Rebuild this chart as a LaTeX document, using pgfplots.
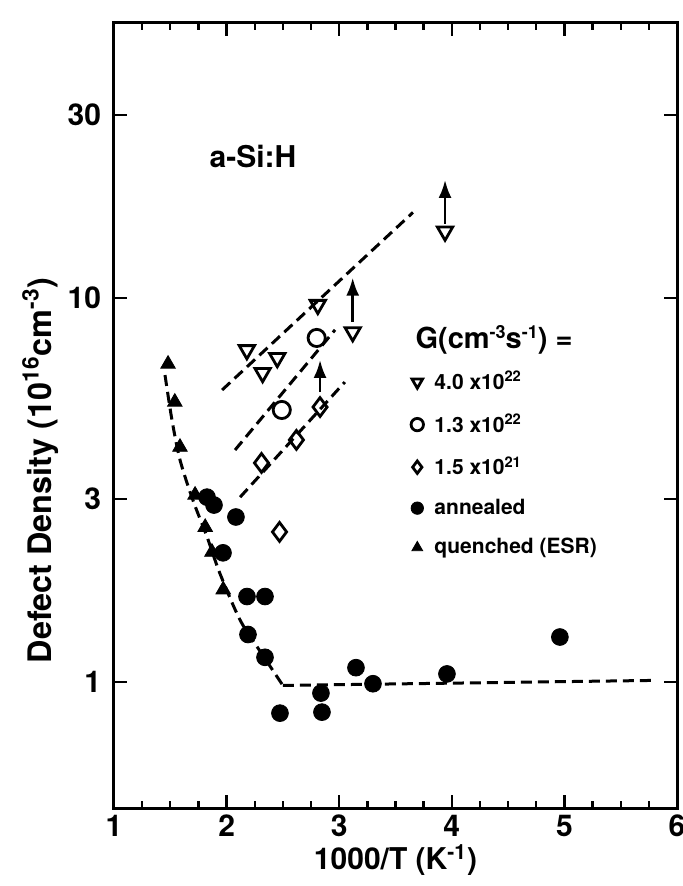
\documentclass[border=0pt]{standalone}
\usepackage{fontspec}
\setmainfont{TeX Gyre Heros}
\usepackage{pgfplots}
\pgfplotsset{compat=1.18}
\usetikzlibrary{arrows.meta}
\begin{document}
\bfseries
\begin{tikzpicture}
\begin{axis}[
  at={(0,0)}, anchor=south west,
  scale only axis, width=281.5pt, height=392.5pt,
  xmin=1, xmax=6, ymode=log, ymin=0.47, ymax=52,
  xtick={1,2,3,4,5,6}, xticklabels={1,2,3,4,5,6},
  minor x tick num=3,
  ytick={1,3,10,30}, yticklabels={1,3,10,30},
  yminorticks=false,
  tick align=inside,
  major tick length=6.5pt, minor tick length=3.5pt,
  axis line style={line width=1.5pt},
  every tick/.style={line width=1.2pt, black},
  tick label style={font=\fontsize{15}{18}\selectfont\bfseries},
  label style={font=\fontsize{15}{18}\selectfont\bfseries},
  yticklabel style={xshift=-3pt},
  xlabel={1000/T (K\textsuperscript{-1})},
  ylabel={Defect Density (10\textsuperscript{16}cm\textsuperscript{-3})},
  xlabel style={at={(rel axis cs:0.5,-0.066)}, anchor=center},
  ylabel style={at={(rel axis cs:-0.131,0.43)}, anchor=center, font=\fontsize{16.2}{19}\selectfont\bfseries},
  legend style={at={(rel axis cs:0.527,0.562)}, anchor=north west, draw=none, fill=none,
    font=\fontsize{10.5}{12}\selectfont\bfseries, row sep=6.5pt, inner sep=0pt,
    /tikz/every odd column/.append style={column sep=3.5pt}},
  legend cell align=left,
  legend image code/.code={\draw[#1, mark size=3.1pt] plot coordinates {(0.12cm,0cm)};},
  dashline/.style={black, dash pattern=on 5.5pt off 3pt, line width=1.5pt, forget plot},
  arr/.style={black, line width=1.4pt, -{Latex[length=9pt,width=6.5pt]}, forget plot},
]
% dashed guide lines
\addplot[dashline] coordinates {(1.96,5.76) (3.655,16.7)};
\addplot[dashline] coordinates {(2.075,4.02) (2.963,8.26)};
\addplot[dashline] coordinates {(2.12,3.03) (3.05,6.04)};
\addplot[dashline, smooth] coordinates {(1.453,6.30) (1.515,4.81) (1.586,3.79) (1.70,2.98) (1.826,2.39) (1.94,1.92) (2.12,1.45) (2.30,1.20) (2.50,0.98)};
\addplot[dashline] coordinates {(2.50,0.98) (5.80,1.01)};
% arrows
\addplot[arr] coordinates {(3.94,15.6) (3.94,20.3)};
\addplot[arr] coordinates {(3.12,8.66) (3.12,11.3)};
\addplot[arr] coordinates {(2.83,5.69) (2.83,6.9)};
% data
\addplot[only marks, mark=triangle, mark size=4.4pt, mark options={rotate=180, fill=white, line width=1.4pt, black}]
  coordinates {(2.18,7.32) (2.32,6.38) (2.45,6.98) (2.81,9.6) (3.12,8.15) (3.94,14.9)};
\addlegendentry{4.0 x10\textsuperscript{22}}
\addplot[only marks, mark=o, mark size=4.3pt, mark options={fill=white, line width=1.4pt, black}]
  coordinates {(2.49,5.11) (2.80,7.87)};
\addlegendentry{1.3 x10\textsuperscript{22}}
\addplot[only marks, mark=diamond, mark size=4.7pt, mark options={fill=white, line width=1.4pt, black}]
  coordinates {(2.31,3.72) (2.62,4.27) (2.83,5.20) (2.47,2.46)};
\addlegendentry{1.5 x10\textsuperscript{21}}
\addplot[only marks, mark=*, mark size=4.2pt, mark options={black, fill=black}]
  coordinates {(1.826,3.03) (1.888,2.89) (2.083,2.69) (1.968,2.17) (2.181,1.67) (2.341,1.67) (2.19,1.33) (2.341,1.16) (2.474,0.83) (2.838,0.936) (2.847,0.835) (3.149,1.09) (3.30,0.99) (3.957,1.05) (4.96,1.31)};
\addlegendentry{annealed}
\addplot[only marks, mark=triangle*, mark size=4.2pt, mark options={black, fill=black}]
  coordinates {(1.48,6.73) (1.54,5.36) (1.586,4.09) (1.72,3.07) (1.81,2.53) (1.87,2.18) (1.97,1.74)};
\addlegendentry{quenched (ESR)}
\node[font=\fontsize{15}{18}\selectfont\bfseries] at (axis cs:2.234,23.3) {a-Si:H};
\node[anchor=west, inner sep=0pt, font=\fontsize{14.5}{17}\selectfont\bfseries] at (rel axis cs:0.535,0.596) {G(cm{\fontsize{9}{9}\selectfont\raisebox{0.55em}{-3}}s{\fontsize{9}{9}\selectfont\raisebox{0.55em}{-1}}) =};
\end{axis}
\pgfresetboundingbox
\path (-57pt,-39pt) rectangle (284.5pt,404pt);
\end{tikzpicture}
\end{document}
